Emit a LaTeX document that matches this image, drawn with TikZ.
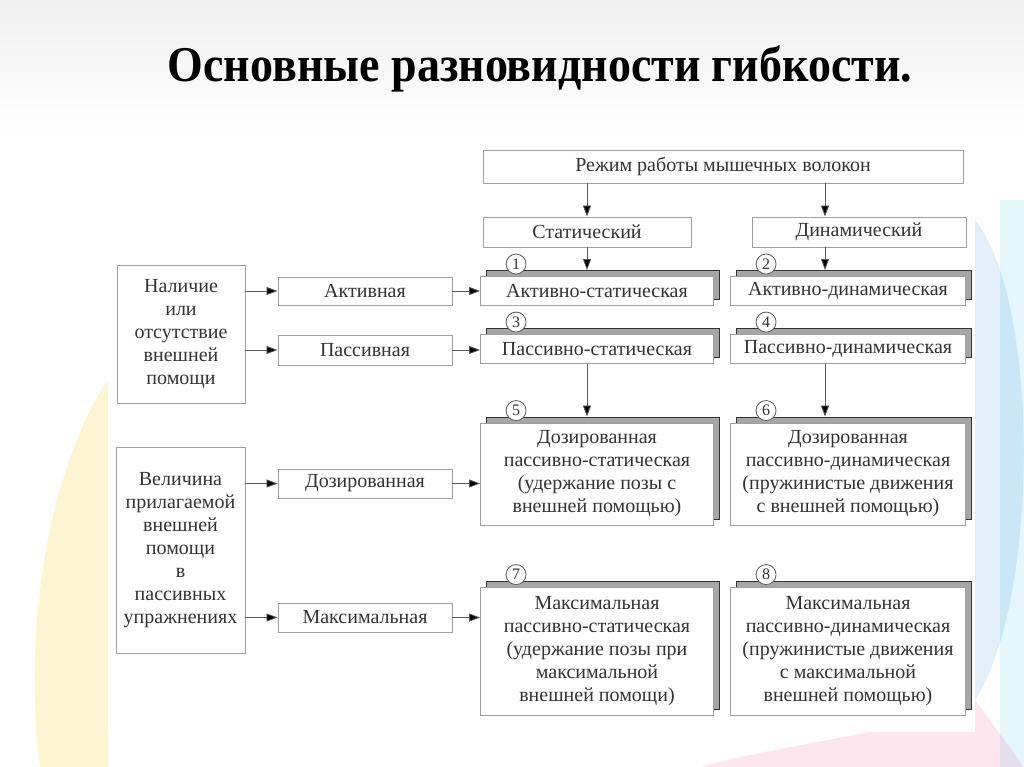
\documentclass[tikz,border=0pt]{standalone}
\usepackage{fontspec}
\setmainfont{Liberation Serif}
\newfontfamily\titlefont[FakeStretch=0.92]{Liberation Serif}
\usetikzlibrary{arrows.meta,shadows}

\tikzset{
  box/.style={draw=gray!75, fill=white, line width=0.9pt, align=center, inner sep=0pt,
    text=black!80, font=\fontsize{20}{23}\selectfont},
  numbox/.style={box, drop shadow={shadow xshift=6pt, shadow yshift=6pt,
    fill=gray!70, draw=gray!40!black, opacity=1}},
  numcirc/.style={circle, draw=gray!70!black, fill=white, line width=0.8pt, inner sep=0pt,
    minimum size=20pt, font=\fontsize{16}{16}\selectfont, text=black!80},
  arr/.style={draw=black!65, line width=0.8pt, -{Triangle[length=11pt,width=8pt,fill=black]}},
}

\begin{document}
\begin{tikzpicture}[x=1pt,y=-1pt]
			%%%%% START %%%%%
			\useasboundingbox (0,0) rectangle (1024,767);
			\fill[white] (0,0) rectangle (1024,767);
			\shade[top color=gray!12, bottom color=white] (0,0) rectangle (1024,140);
			
			% colour blobs behind the slide
			\fill[yellow!60!orange, opacity=0.18] (40,767) .. controls (20,600) and (60,450) .. (108,380) -- (108,767) -- cycle;
			\fill[cyan!60!blue, opacity=0.12] (975,220) .. controls (1040,300) and (1040,600) .. (975,700) -- cycle;
			\fill[cyan, opacity=0.10] (1024,200) rectangle (1000,767);
			\fill[magenta!60!red, opacity=0.10] (700,767) .. controls (800,740) and (900,735) .. (975,700) -- (1024,767) -- cycle;
			\fill[white] (108,140) rectangle (975,732);
			
			\node[anchor=base, font=\titlefont\bfseries\fontsize{50}{50}\selectfont] (title) at (540,82) {Основные разновидности гибкости.};
			
			% top row
			\node[box, minimum width=480pt, minimum height=33pt] (mode) at (723,166.5) {Режим работы мышечных волокон};
			\node[box, minimum width=208pt, minimum height=30pt] (stat) at (587,232) {Статический};
			\node[box, minimum width=214pt, minimum height=30pt] (dyn) at (859,232) {Динамический};
			\coordinate (dx) at (825,0);
			
			% numbered boxes
			\node[numbox, minimum width=233pt, minimum height=29pt] (b1) at (597,291) {Активно-статическая};
			\node[numbox, minimum width=235pt, minimum height=29pt] (b2) at (848,291) {Активно-динамическая};
			\node[numbox, minimum width=233pt, minimum height=29pt] (b3) at (597,349) {Пассивно-статическая};
			\node[numbox, minimum width=235pt, minimum height=29pt] (b4) at (848,349) {Пассивно-динамическая};
			\node[numbox, minimum width=233pt, minimum height=102pt] (b5) at (597,474) {Дозированная\\пассивно-статическая\\(удержание позы с\\внешней помощью)};
			\node[numbox, minimum width=235pt, minimum height=102pt] (b6) at (848,474) {Дозированная\\пассивно-динамическая\\(пружинистые движения\\с внешней помощью)};
			\node[numbox, minimum width=233pt, minimum height=128pt] (b7) at (597,651) {Максимальная\\пассивно-статическая\\(удержание позы при\\максимальной\\внешней помощи)};
			\node[numbox, minimum width=235pt, minimum height=128pt] (b8) at (848,651) {Максимальная\\пассивно-динамическая\\(пружинистые движения\\с максимальной\\внешней помощью)};
			
			\foreach \n in {1,...,8}
			  \node[numcirc] (c\n) at ([xshift=36pt,yshift=12pt]b\n.north west) {\n};
			
			% left part
			\node[box, minimum width=128pt, minimum height=138pt] (have) at (181,334) {Наличие\\или\\отсутствие\\внешней\\помощи};
			\node[box, minimum width=174pt, minimum height=28pt] (act) at (365,291) {Активная};
			\node[box, minimum width=174pt, minimum height=30pt] (pas) at (365,350) {Пассивная};
			\node[box, minimum width=129pt, minimum height=206pt] (size) at (180.5,550) {Величина\\прилагаемой\\внешней\\помощи\\в\\пассивных\\упражнениях};
			\node[box, minimum width=174pt, minimum height=29pt] (dose) at (365,483.5) {Дозированная};
			\node[box, minimum width=174pt, minimum height=29pt] (max) at (365,617.5) {Максимальная};
			
			% arrows
			\draw[arr] (mode.south -| stat) -- (stat.north);
			\draw[arr] (mode.south -| dx) -- (dyn.north -| dx);
			\draw[arr, shorten >=6pt] (stat.south) -- (stat.south |- b1.north);
			\draw[arr, shorten >=6pt] (dyn.south -| dx) -- (b2.north -| dx);
			\draw[arr, shorten >=6pt] (b3.south -| stat) -- (b5.north -| stat);
			\draw[arr, shorten >=6pt] (b4.south -| dx) -- (b6.north -| dx);
			
			\draw[arr] (have.east |- act) -- (act.west);
			\draw[arr] (have.east |- pas) -- (pas.west);
			\draw[arr] (act.east) -- (act.east -| b1.west);
			\draw[arr] (pas.east) -- (pas.east -| b3.west);
			\draw[arr] (size.east |- dose) -- (dose.west);
			\draw[arr] (size.east |- max) -- (max.west);
			\draw[arr] (dose.east) -- (dose.east -| b5.west);
			\draw[arr] (max.east) -- (max.east -| b7.west);
			%%%%% END %%%%%
\end{tikzpicture}
\end{document}
